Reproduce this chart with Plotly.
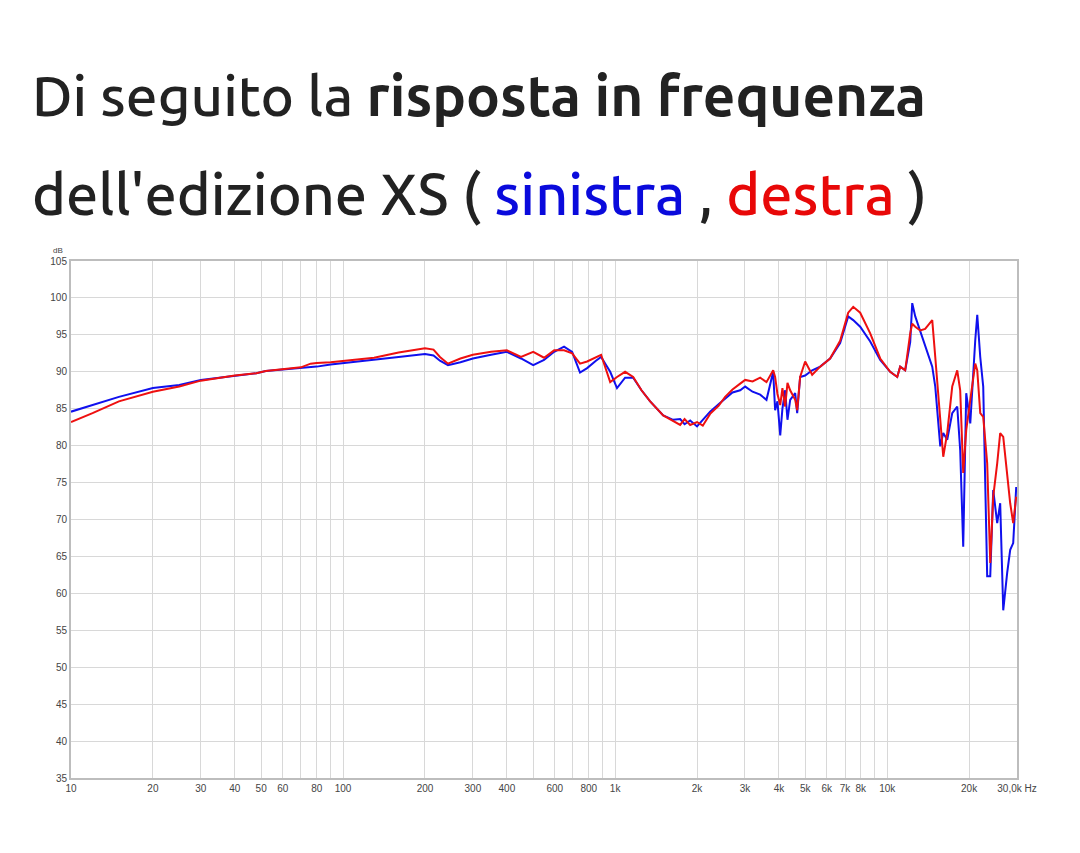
import plotly.graph_objects as go

# Frequency grid (Hz) and measured responses (dB)
freq_hz = [10, 12, 15, 20, 25, 30, 40, 48, 52, 60, 70, 76, 80, 90, 100, 130, 160, 200, 215, 227, 243,
           270, 300, 350, 400, 451, 500, 548, 597, 649, 695, 743, 789, 850, 888, 959, 1016, 1088, 1165,
           1250, 1345, 1502, 1634, 1734, 1800, 1887, 2000, 2100, 2234, 2400, 2537, 2700, 2882, 3006,
           3200, 3413, 3600, 3810, 3873, 3950, 4044, 4120, 4217, 4300, 4399, 4590, 4668, 4786, 4994,
           5300, 5671, 6168, 6715, 7189, 7500, 7956, 8661, 9426, 10256, 10885, 11160, 11646, 12150,
           12360, 12680, 13220, 13790, 14640, 15020, 15670, 16070, 16620, 17340, 18090, 18550, 19030,
           19520, 20200, 21070, 21430, 21980, 22540, 23310, 23920, 24530, 25370, 26020, 26700, 27610,
           28320, 29050, 29800]

left_db = [84.6, 85.5, 86.6, 87.8, 88.2, 88.9, 89.5, 89.8, 90.1, 90.3, 90.5, 90.6, 90.7, 91.0, 91.2,
           91.6, 92.0, 92.4, 92.2, 91.5, 90.9, 91.3, 91.8, 92.3, 92.7, 91.8, 90.9, 91.6, 92.7, 93.4,
           92.7, 89.9, 90.5, 91.5, 92.0, 90.0, 87.8, 89.2, 89.2, 87.5, 86.0, 84.1, 83.5, 83.6, 82.9,
           83.4, 82.6, 83.5, 84.6, 85.6, 86.4, 87.2, 87.5, 88.0, 87.3, 86.9, 86.2, 90.0, 84.8, 86.0,
           81.4, 85.0, 87.5, 83.5, 86.2, 87.1, 84.4, 89.3, 89.5, 90.2, 90.7, 91.8, 93.9, 97.5, 97.0,
           96.1, 94.1, 91.6, 90.0, 89.3, 90.7, 90.2, 94.0, 99.3, 97.5, 95.6, 93.6, 90.7, 88.0, 79.9,
           81.7, 80.8, 84.4, 85.3, 79.4, 66.3, 87.1, 83.0, 94.3, 97.7, 92.0, 88.0, 62.3, 62.3, 74.0,
           69.5, 72.2, 57.7, 62.8, 65.9, 66.8, 74.4]

right_db = [83.2, 84.4, 86.0, 87.3, 88.0, 88.8, 89.5, 89.8, 90.1, 90.3, 90.6, 91.1, 91.2, 91.3, 91.5,
            91.9, 92.6, 93.2, 93.0, 92.0, 91.1, 91.8, 92.3, 92.7, 92.9, 92.0, 92.7, 91.9, 92.9, 92.9,
            92.5, 91.1, 91.4, 92.0, 92.3, 88.6, 89.3, 90.0, 89.3, 87.5, 86.0, 84.1, 83.3, 82.8, 83.6,
            82.8, 83.2, 82.7, 84.3, 85.4, 86.6, 87.6, 88.4, 88.9, 88.7, 89.2, 88.6, 90.2, 89.3, 87.0,
            85.5, 87.8, 85.3, 88.5, 87.5, 86.2, 84.8, 89.3, 91.4, 89.6, 90.7, 91.8, 94.2, 98.0, 98.8,
            98.0, 95.2, 91.8, 90.0, 89.3, 90.7, 90.2, 95.2, 96.5, 96.1, 95.6, 95.8, 97.0, 92.0, 83.0,
            78.5, 81.7, 88.0, 90.2, 87.5, 76.3, 82.1, 86.2, 91.1, 90.2, 84.4, 83.9, 77.6, 64.1, 73.1,
            77.6, 81.7, 81.2, 76.3, 72.2, 69.5, 73.1]

# Axis ticks
grid_freqs = [10, 20, 30, 40, 50, 60, 70, 80, 90, 100, 200, 300, 400, 500, 600, 700, 800, 900,
              1000, 2000, 3000, 4000, 5000, 6000, 7000, 8000, 9000, 10000, 20000, 30000]
grid_labels = ["10", "20", "30", "40", "50", "60", "", "80", "", "100", "200", "300", "400", "",
               "600", "", "800", "", "1k", "2k", "3k", "4k", "5k", "6k", "7k", "8k", "", "10k",
               "20k", "30,0k Hz"]
db_ticks = list(range(35, 106, 5))

fig = go.Figure()
fig.add_trace(go.Scatter(x=freq_hz, y=left_db, mode="lines", name="sinistra",
                         line=dict(color="#1010ee", width=2)))
fig.add_trace(go.Scatter(x=freq_hz, y=right_db, mode="lines", name="destra",
                         line=dict(color="#ee1010", width=2)))

fig.update_layout(
    width=1080, height=853,
    margin=dict(l=63, r=71, t=253, b=83, autoexpand=False),
    paper_bgcolor="white", plot_bgcolor="white",
    showlegend=False,
    font=dict(family="Liberation Sans, Arial, sans-serif"),
)
fig.update_xaxes(type="log", range=[1, 4.4771], tickvals=grid_freqs, ticktext=grid_labels,
                 showgrid=True, gridcolor="#d8d8d8", gridwidth=1, zeroline=False,
                 showline=True, linecolor="#bdbdbd", linewidth=2, mirror=True,
                 tickfont=dict(size=10, color="#444"), ticks="", tickangle=0)
fig.update_yaxes(range=[35, 105], tickvals=db_ticks,
                 showgrid=True, gridcolor="#d8d8d8", gridwidth=1, zeroline=False,
                 showline=True, linecolor="#bdbdbd", linewidth=2, mirror=True,
                 tickfont=dict(size=10, color="#444"), ticks="")

fig.add_annotation(text="dB", xref="paper", yref="paper", x=-0.014, y=1.0, xanchor="center",
                   yanchor="bottom", yshift=4, showarrow=False, font=dict(size=8, color="#444"))

title_font = "Ubuntu, 'Open Sans', 'Noto Sans', sans-serif"
fig.add_annotation(text="Di seguito la <b>risposta in frequenza</b>", xref="paper", yref="paper",
                   x=-0.0433, y=1.321, xanchor="left", yanchor="middle", showarrow=False,
                   font=dict(family=title_font, size=56.6, color="#222222", weight=500))
fig.add_annotation(text="dell'edizione XS ( <span style='color:#0a0adc'>sinistra</span> , "
                        "<span style='color:#e80808'>destra</span> )",
                   xref="paper", yref="paper",
                   x=-0.0433, y=1.1315, xanchor="left", yanchor="middle", showarrow=False,
                   font=dict(family=title_font, size=57.5, color="#222222", weight=500))

fig.write_html("out.html")
